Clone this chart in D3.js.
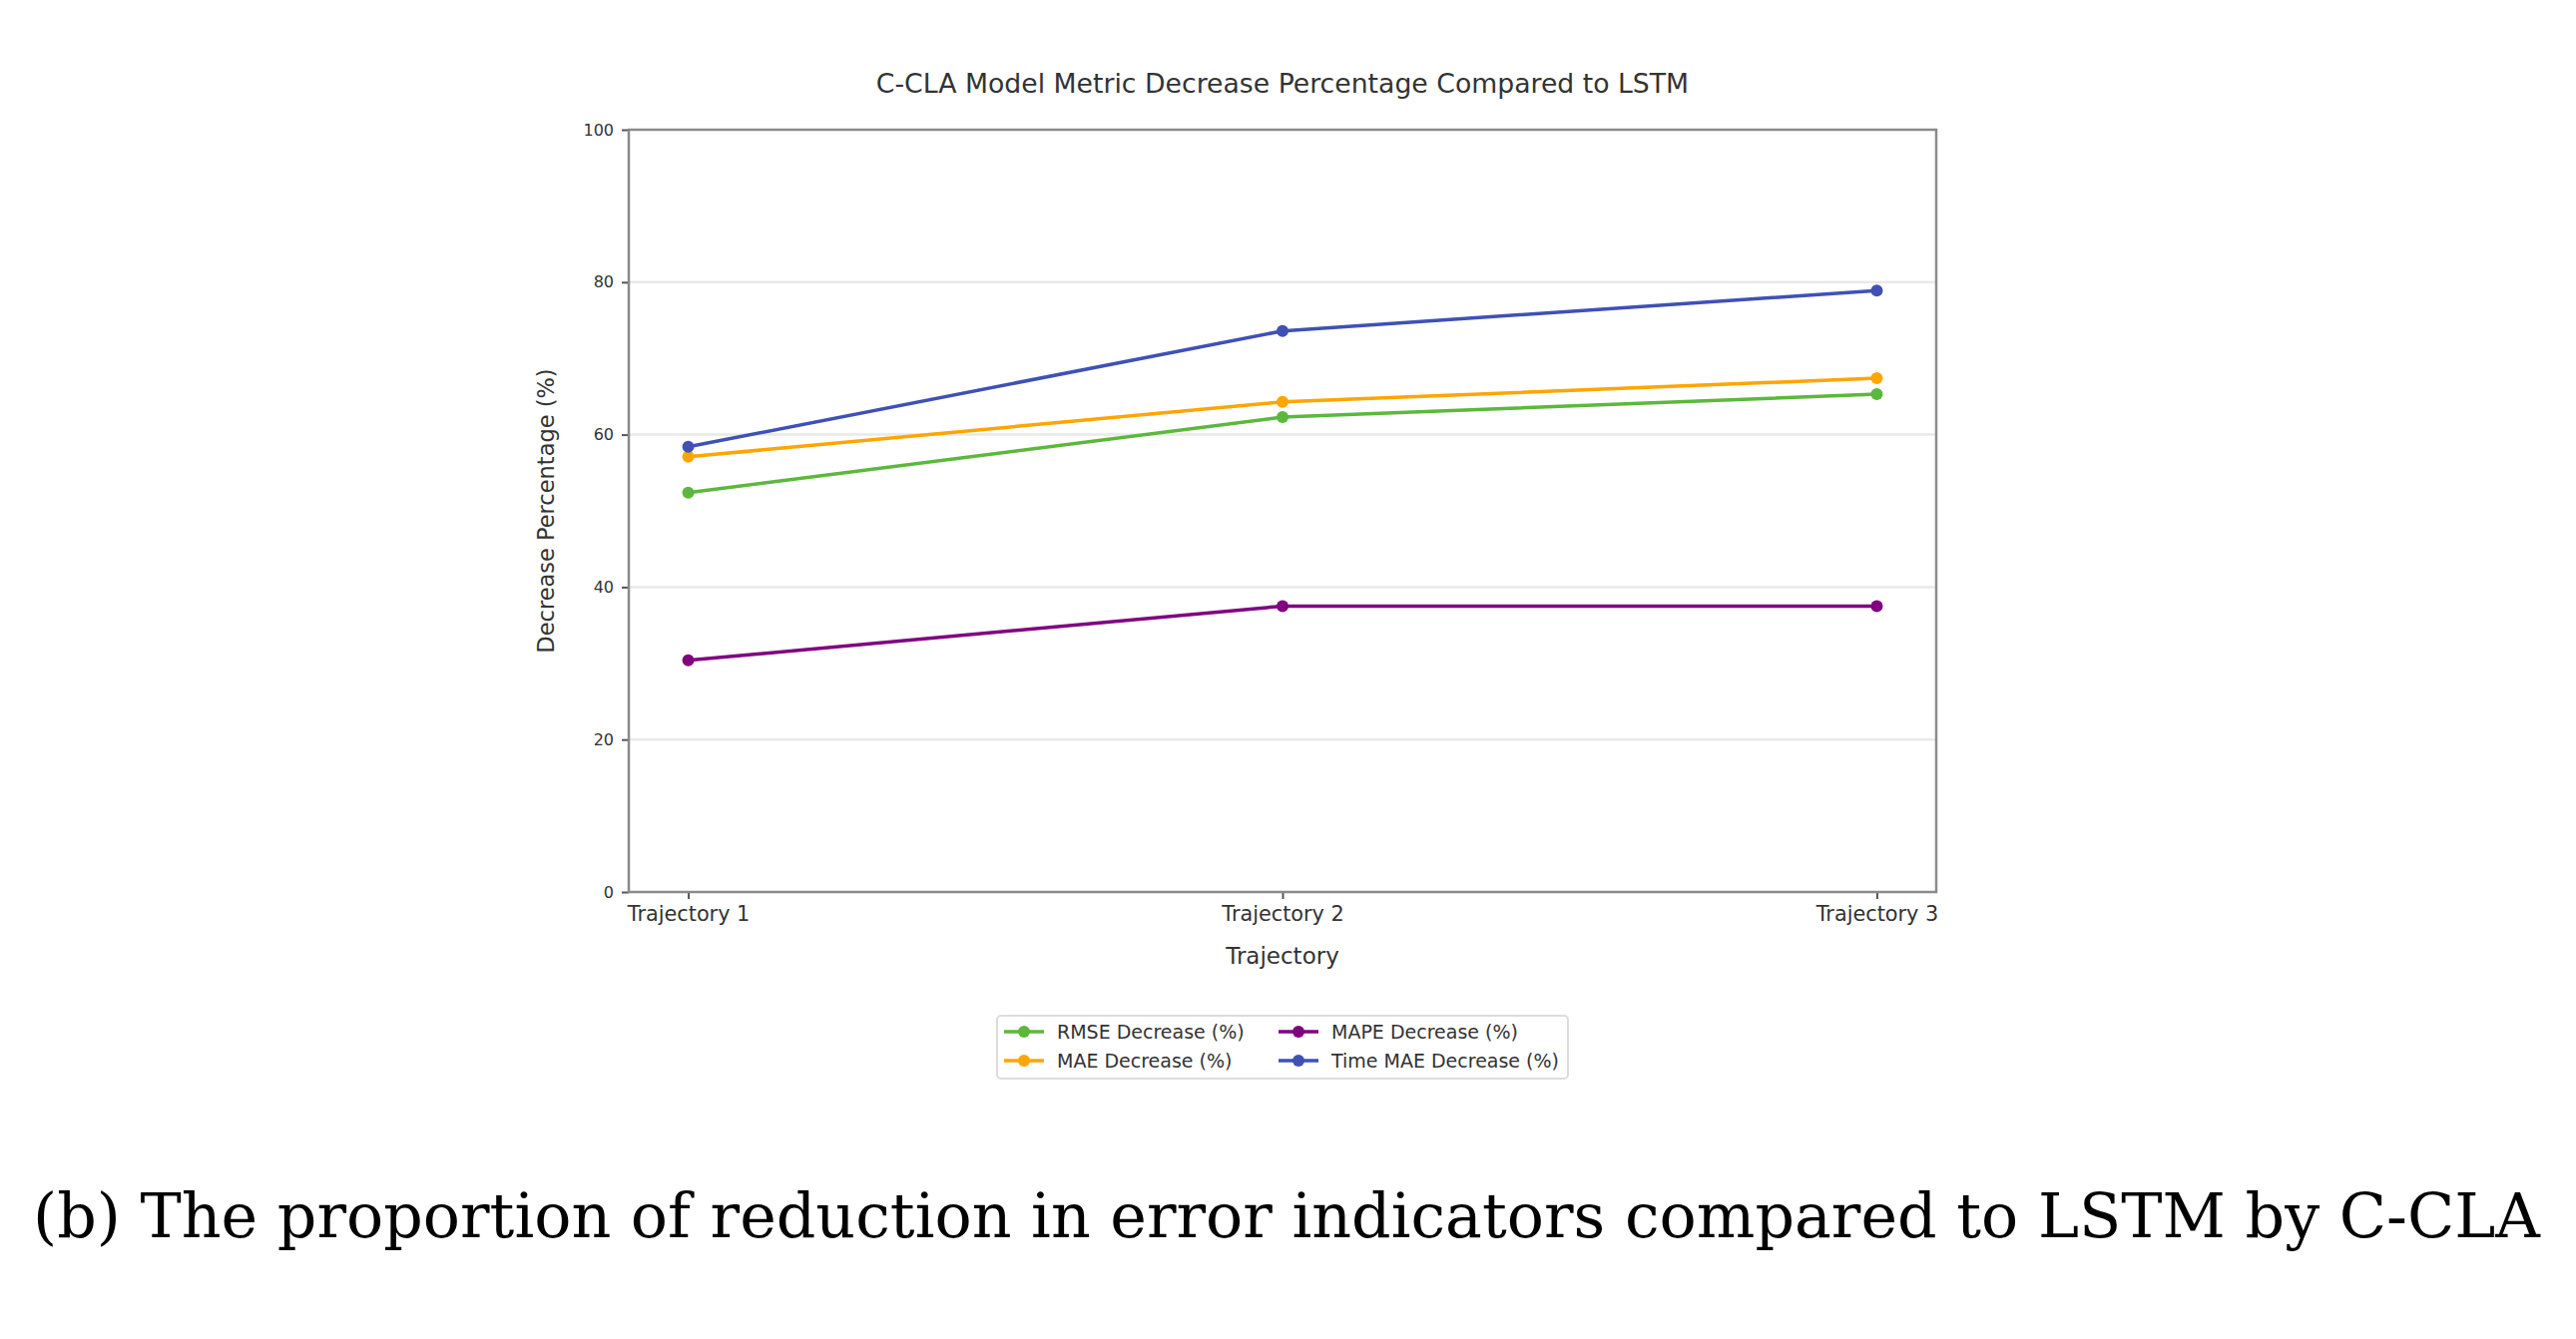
<!doctype html>
<html lang="en">
<head>
<meta charset="utf-8">
<title>C-CLA metric decrease</title>
<script src="https://d3js.org/d3.v7.min.js"></script>
<style>
  body { margin: 0; background: #fff; }
  text { font-family: "DejaVu Sans", sans-serif; }
  .tick line { stroke: #555; }
</style>
</head>
<body>
<div id="chart"></div>
<script>
// values
var trajectories = ["Trajectory 1", "Trajectory 2", "Trajectory 3"];
var rmseDecrease = [52.4, 62.3, 65.3];
var maeDecrease = [57.1, 64.3, 67.4];
var mapeDecrease = [30.4, 37.5, 37.5];
var timeMaeDecrease = [58.4, 73.6, 78.9];
var seriesNames = ["RMSE Decrease (%)", "MAE Decrease (%)", "MAPE Decrease (%)", "Time MAE Decrease (%)"];
var seriesColors = ["#5cb83c", "#ffa500", "#800080", "#3f51b5"];
var yTicks = [0, 20, 40, 60, 80, 100];

var series = [rmseDecrease, maeDecrease, mapeDecrease, timeMaeDecrease].map(function (vals, i) {
  return { name: seriesNames[i], color: seriesColors[i], values: vals };
});

var W = 2581, H = 1342;
// plot box (window.top is reserved, so no "top" here)
var plotL = 630, plotR = 1940, plotT = 130, plotB = 894;

var svg = d3.select("#chart").append("svg")
  .attr("width", W).attr("height", H)
  .style("background", "#fff");

var x = d3.scalePoint().domain(trajectories).range([plotL, plotR]).padding(0.1);
var y = d3.scaleLinear().domain([0, 100]).range([plotB, plotT]);

// horizontal grid
svg.append("g").selectAll("line").data(yTicks.slice(1, -1)).enter().append("line")
  .attr("x1", plotL).attr("x2", plotR)
  .attr("y1", function (d) { return y(d); }).attr("y2", function (d) { return y(d); })
  .style("stroke", "#e9e9e9").style("stroke-width", 2.5);

// axes
var xAxis = svg.append("g").attr("transform", "translate(0," + plotB + ")")
  .call(d3.axisBottom(x).tickSize(7).tickPadding(7));
xAxis.selectAll("text").style("font-size", "20.8px").style("fill", "#333");

var yAxis = svg.append("g").attr("transform", "translate(" + plotL + ",0)")
  .call(d3.axisLeft(y).tickValues(yTicks).tickSize(7).tickPadding(8));
yAxis.selectAll("text").style("font-size", "16px").style("fill", "#333");

svg.selectAll(".domain").remove();
svg.selectAll(".tick line").style("stroke-width", 2);

// spines
svg.append("rect")
  .attr("x", plotL).attr("y", plotT).attr("width", plotR - plotL).attr("height", plotB - plotT)
  .style("fill", "none").style("stroke", "#8a8a8a").style("stroke-width", 2.5);

// lines + markers
var line = d3.line()
  .x(function (d, i) { return x(trajectories[i]); })
  .y(function (d) { return y(d); });

series.forEach(function (s) {
  svg.append("path").datum(s.values)
    .attr("d", line)
    .style("fill", "none").style("stroke", s.color).style("stroke-width", 3.5);
  svg.append("g").selectAll("circle").data(s.values).enter().append("circle")
    .attr("cx", function (d, i) { return x(trajectories[i]); })
    .attr("cy", function (d) { return y(d); })
    .attr("r", 6)
    .style("fill", s.color);
});

// title and axis labels
svg.append("text").attr("x", (plotL + plotR) / 2).attr("y", 93)
  .attr("text-anchor", "middle").style("font-size", "26.7px").style("fill", "#333")
  .text("C-CLA Model Metric Decrease Percentage Compared to LSTM");

svg.append("text").attr("x", (plotL + plotR) / 2).attr("y", 966)
  .attr("text-anchor", "middle").style("font-size", "23px").style("fill", "#333")
  .text("Trajectory");

svg.append("text")
  .attr("transform", "translate(555," + ((plotT + plotB) / 2) + ") rotate(-90)")
  .attr("text-anchor", "middle").style("font-size", "22.5px").style("fill", "#333")
  .text("Decrease Percentage (%)");

// legend, 2 columns
var legend = svg.append("g");
legend.append("rect")
  .attr("x", 999).attr("y", 1018).attr("width", 572).attr("height", 63).attr("rx", 4)
  .style("fill", "#fff").style("stroke", "#dcdcdc").style("stroke-width", 2);

var colX = [1006, 1281];
var rowY = [1034, 1063];
series.forEach(function (s, i) {
  var cx = colX[Math.floor(i / 2)], cy = rowY[i % 2];
  var g = legend.append("g");
  g.append("line").attr("x1", cx).attr("x2", cx + 40).attr("y1", cy).attr("y2", cy)
    .style("stroke", s.color).style("stroke-width", 3.5);
  g.append("circle").attr("cx", cx + 20).attr("cy", cy).attr("r", 6).style("fill", s.color);
  g.append("text").attr("x", cx + 53).attr("y", cy + 7)
    .style("font-size", "19px").style("fill", "#333").text(s.name);
});

// caption below the figure
var caption = svg.append("text").attr("x", 1289).attr("y", 1240)
  .attr("text-anchor", "middle")
  .style("font-family", "'DejaVu Serif', 'Liberation Serif', serif")
  .style("font-size", "60px").style("fill", "#000")
  .text("(b) The proportion of reduction in error indicators compared to LSTM by C-CLA");
var cw = caption.node().getComputedTextLength();
caption.style("font-size", (60 * 2512 / cw) + "px");
</script>
</body>
</html>
